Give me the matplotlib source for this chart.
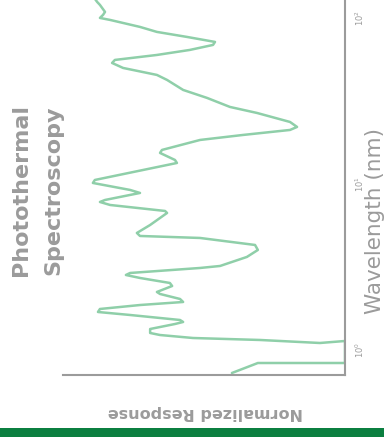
import numpy as np
import matplotlib
matplotlib.use('Agg')
import matplotlib.pyplot as plt
from matplotlib.patches import Rectangle

# spectrum samples: wavelength (nm) and normalised response
wavelength = [0.727, 0.779, 0.835, 0.835, 0.835, 1.133, 1.102, 1.149, 1.181, 1.231,
              1.266, 1.338, 1.434, 1.475, 1.516, 1.625, 1.694, 1.766, 1.866, 1.946,
              2.029, 2.175, 2.236, 2.429, 2.533, 2.715, 2.830, 2.910, 3.119, 3.207,
              3.634, 4.004, 4.291, 4.729, 4.862, 5.069, 5.662, 6.688, 6.876, 7.472,
              7.790, 8.009, 8.828, 9.203, 10.14, 10.57, 13.38, 13.95, 15.38, 16.03,
              18.41, 19.73, 21.15, 22.05, 23.63, 26.77, 29.10, 32.97, 36.84, 42.32,
              45.36, 49.98, 53.56, 55.85, 59.84, 64.17, 68.77, 71.69, 76.82, 82.37,
              88.28, 97.27, 100.0, 104.3, 108.7, 119.8, 124.9, 137.6]
response = [0.401, 0.355, 0.309, 0.160, 0.000, 0.000, 0.089, 0.301, 0.539, 0.656,
            0.691, 0.691, 0.603, 0.574, 0.585, 0.762, 0.876, 0.869, 0.727, 0.574,
            0.585, 0.656, 0.667, 0.613, 0.621, 0.727, 0.777, 0.762, 0.514, 0.443,
            0.348, 0.309, 0.319, 0.514, 0.727, 0.738, 0.691, 0.631, 0.638, 0.833,
            0.869, 0.851, 0.727, 0.762, 0.894, 0.887, 0.596, 0.603, 0.656, 0.649,
            0.514, 0.362, 0.195, 0.170, 0.195, 0.312, 0.408, 0.489, 0.574, 0.631,
            0.667, 0.787, 0.826, 0.816, 0.667, 0.550, 0.468, 0.461, 0.560, 0.667,
            0.727, 0.833, 0.869, 0.858, 0.851, 0.869, 0.879, 0.897]

title = 'Photothermal\nSpectroscopy'
x_label = 'Wavelength (nm)'
y_label = 'Normalized Response'

gray = '#9b9b9b'
line_green = '#8fcfa9'
bar_green = '#0b7f40'

fig = plt.figure(figsize=(3.84, 4.41), dpi=100)
ax = fig.add_axes([63 / 384, 66 / 441, 282 / 384, 375 / 441])

# wavelength runs up the right side, response grows to the left
ax.plot(response, wavelength, color=line_green, lw=1.8,
        solid_joinstyle='round', solid_capstyle='round')
ax.set_yscale('log')
ax.set_ylim(10 ** -0.1506, 10 ** 2.108)
ax.set_xlim(1.0, 0.0)

for side in ['top', 'left']:
    ax.spines[side].set_visible(False)
for side in ['bottom', 'right']:
    ax.spines[side].set_color(gray)
    ax.spines[side].set_linewidth(1.5)

ax.set_xticks([])
ax.yaxis.tick_right()
ax.tick_params(axis='y', which='both', length=0, labelsize=6, labelcolor=gray,
               labelrotation=90, pad=6)
ax.yaxis.set_minor_formatter(plt.NullFormatter())
for lbl in ax.get_yticklabels():
    lbl.set_verticalalignment('center')

ax.yaxis.set_label_position('right')
ax.set_ylabel(x_label, fontsize=15.5, color=gray, rotation=90, va='center')
ax.yaxis.set_label_coords(1.105, 0.41)

ax.set_xlabel(y_label, fontsize=11.5, fontweight='bold', color=gray,
              rotation=180, va='center')
ax.xaxis.set_label_coords(0.504, -0.10)

fig.text(37.5 / 384, 1 - 190 / 441, title, rotation=90, ha='center', va='center',
         fontsize=16, fontweight='bold', color=gray, linespacing=1.75)

# green strip along the bottom edge
fig.patches.append(Rectangle((0, 4 / 441), 1, 9 / 441, transform=fig.transFigure,
                             facecolor=bar_green, edgecolor='none'))

fig.savefig('out.png', dpi=100)
